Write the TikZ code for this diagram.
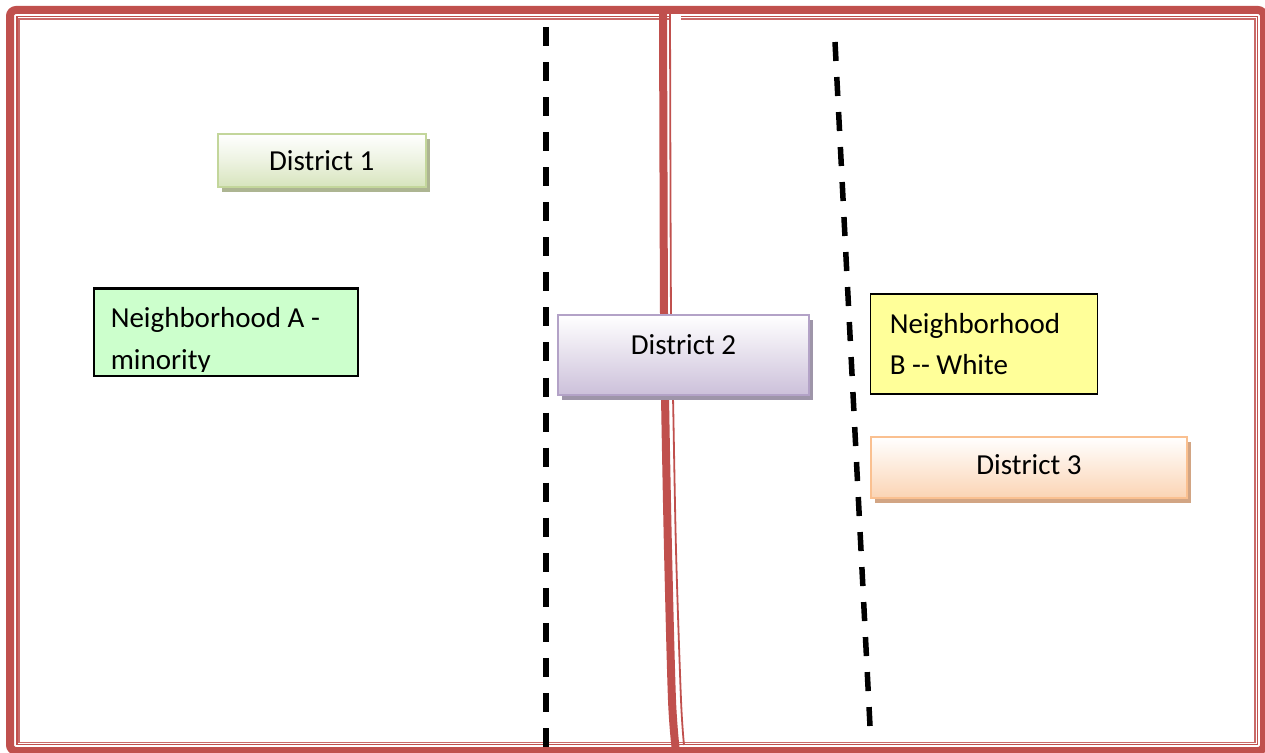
\documentclass[tikz,border=0pt]{standalone}
\usepackage{fontspec}
\setmainfont{Carlito}
\usetikzlibrary{shadows}
\definecolor{framered}{HTML}{C0504D}
\definecolor{gfill}{HTML}{D7E4BD}
\definecolor{gline}{HTML}{C3D69B}
\definecolor{gshadow}{HTML}{ADB592}
\definecolor{pfill}{HTML}{CCC0DA}
\definecolor{pline}{HTML}{B3A2C7}
\definecolor{pshadow}{HTML}{9E95A9}
\definecolor{ofill}{HTML}{FBD4B4}
\definecolor{oline}{HTML}{FAC090}
\definecolor{oshadow}{HTML}{D2A584}
\definecolor{nAfill}{HTML}{CCFFCC}
\definecolor{nBfill}{HTML}{FFFF99}
\tikzset{
  bigfont/.style={font=\fontsize{29}{41.5}\selectfont},
  cutline/.style={line width=5.5pt, dash pattern=on 19pt off 16.05pt, black},
  distbox/.style={rectangle, bigfont, inner sep=0pt, line width=2pt, text=black},
  nbhbox/.style={rectangle, inner sep=0pt, draw=black, line width=1.6pt},
  nbhtext/.style={bigfont, anchor=base west, inner sep=0pt, align=left, text=black},
}
\begin{document}
\begin{tikzpicture}[x=1pt,y=-1pt]
\useasboundingbox (0,0) rectangle (1265,752);
\clip (0,0) rectangle (1265,752);
% frame
\draw[framered, line width=8pt, rounded corners=6pt] (10,10) rectangle (1264,751);
\draw[framered, line width=1.4pt] (16.8,16.8) rectangle (1257.3,744.6);
\draw[framered!85, line width=1.2pt] (19,19) rectangle (1255,742.4);
% divider
\draw[framered, line width=8pt] plot[smooth] coordinates {(663,10) (664,315) (665,397) (668,550) (672,700) (676,752)};
\fill[white] (671.4,14.2) rectangle (681,20.5);
\draw[framered, line width=1.8pt] plot[smooth] coordinates {(670,13) (671,315) (673,397) (676,550) (681,700) (684,745)};
% dashed cut lines
\coordinate (c1a) at (546,27);
\coordinate (c1b) at (546,760);
\coordinate (c2a) at (835,42);
\coordinate (c2b) at (870,726);
\draw[cutline] (c1a) -- (c1b);
\draw[cutline] (c2a) -- (c2b);
% District 1
\node[distbox, draw=gline, top color=white, bottom color=gfill, middle color=gfill!45,
  minimum width=208pt, minimum height=53pt,
  drop shadow={shadow xshift=4pt, shadow yshift=-5pt, fill=gshadow, opacity=1}]
  (d1) at (321.7,160.4) {District 1};
% District 2
\node[distbox, draw=pline, top color=white, bottom color=pfill, middle color=pfill!50,
  minimum width=251pt, minimum height=80pt, text height=19pt, text depth=20.7pt,
  drop shadow={shadow xshift=4pt, shadow yshift=-5pt, fill=pshadow, opacity=1}]
  (d2) at (683.4,355) {District 2};
% District 3
\node[distbox, draw=oline, top color=white, bottom color=ofill, middle color=ofill!50,
  minimum width=316pt, minimum height=61pt, text depth=5.7pt,
  drop shadow={shadow xshift=4pt, shadow yshift=-5pt, fill=oshadow, opacity=1}]
  (d3) at (1029,467.5) {District 3};
% Neighborhood A
\node[nbhbox, fill=nAfill, minimum width=263pt, minimum height=86.3pt] (nA) at (226,332.2) {};
\begin{scope}
  \clip (nA.north west) rectangle (358,371.6);
  \node[nbhtext] (nAt) at (110.6,369) {Neighborhood A -\\minority};
\end{scope}
\draw[black, line width=1.6pt] (nA.north west) rectangle (nA.south east);
% Neighborhood B
\node[nbhbox, fill=nBfill, minimum width=227pt, minimum height=100pt] (nB) at (983.8,344.2) {};
\node[nbhtext] (nBt) at (889.6,374.5) {Neighborhood\\B {-}{-} White};
\end{tikzpicture}
\end{document}
